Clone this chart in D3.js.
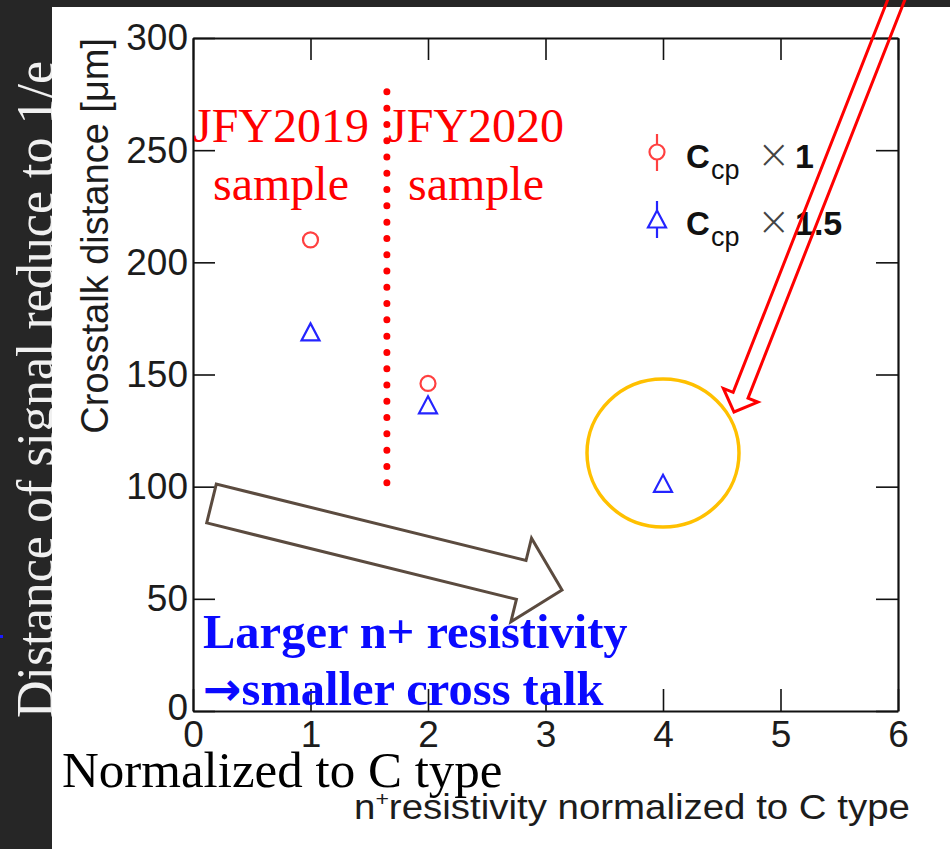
<!DOCTYPE html>
<html>
<head>
<meta charset="utf-8">
<script src="https://cdn.jsdelivr.net/npm/d3@7"></script>
<style>
  body { margin: 0; background: #262626; }
  svg { display: block; }
</style>
</head>
<body>
<div id="chart"></div>
<script>
// data
const xTicks = [0, 1, 2, 3, 4, 5, 6];
const yTicks = [0, 50, 100, 150, 200, 250, 300];
const ccp1X = [1, 2];
const ccp1Y = [210, 146];
const ccp15X = [1, 2, 4];
const ccp15Y = [169, 136.5, 101.5];
const legendFactors = ['1', '1.5'];

const W = 950, H = 849;
const svg = d3.select('#chart').append('svg').attr('width', W).attr('height', H);

// slide background + rotated side caption
svg.append('rect').attr('width', W).attr('height', H).attr('fill', '#262626');
svg.append('text')
  .attr('transform', 'translate(53,718) rotate(-90)')
  .attr('font-family', 'Liberation Serif, serif')
  .attr('font-size', 52)
  .attr('fill', '#f0f0f0')
  .text('Distance of signal reduce to 1/e');
svg.append('rect').attr('x', 0).attr('y', 635).attr('width', 3).attr('height', 3).attr('fill', '#1a1aff');
svg.append('rect').attr('x', 52).attr('y', 7).attr('width', W - 52).attr('height', H - 7).attr('fill', '#fff');

const x = d3.scaleLinear().domain([0, 6]).range([193, 898]);
const y = d3.scaleLinear().domain([0, 300]).range([711, 38]);

// ROOT style frame: ticks on all four sides, pointing inward
const axes = [
  { fn: d3.axisBottom, s: x, t: 'translate(0,711)', major: xTicks, minor: d3.range(0, 6.001, 0.2), labels: true, pad: 10 },
  { fn: d3.axisTop, s: x, t: 'translate(0,38)', major: xTicks, minor: d3.range(0, 6.001, 0.2), labels: false },
  { fn: d3.axisLeft, s: y, t: 'translate(193,0)', major: yTicks, minor: d3.range(0, 300.1, 10), labels: true, pad: 5, left: true },
  { fn: d3.axisRight, s: y, t: 'translate(898,0)', major: yTicks, minor: d3.range(0, 300.1, 10), labels: false }
];
axes.forEach(a => {
  const g = svg.append('g').attr('transform', a.t);
  g.call(a.fn(a.s).tickValues(a.minor).tickSize(-11).tickSizeOuter(0).tickFormat(''));
  g.call(a.fn(a.s).tickValues(a.major).tickSize(-22).tickSizeOuter(0)
    .tickPadding(a.pad || 3).tickFormat(a.labels ? d3.format('d') : ''));
  g.selectAll('.tick line').attr('stroke', '#111').attr('stroke-width', 1.6);
  g.selectAll('.domain').attr('stroke', '#111').attr('stroke-width', 2.2);
  g.selectAll('text').attr('font-family', 'Liberation Sans, Arial, sans-serif')
    .attr('font-size', 37).attr('fill', '#1c1c1c');
  // y "0" sits slightly higher, as in ROOT
  if (a.left) g.selectAll('.tick text').filter(d => d === 0).attr('dy', '0.22em');
});

// axis titles
svg.append('text')
  .attr('transform', 'translate(108,38) rotate(-90)')
  .attr('text-anchor', 'end')
  .attr('font-family', 'Liberation Sans, Arial, sans-serif')
  .attr('font-size', 38)
  .attr('fill', '#1c1c1c')
  .text('Crosstalk distance [μm]');

const xTitle = svg.append('text')
  .attr('font-family', 'Liberation Sans, Arial, sans-serif')
  .attr('font-size', 35)
  .attr('fill', '#1c1c1c');
xTitle.append('tspan').text('n');
xTitle.append('tspan').attr('font-size', 21).attr('dy', -13).text('+');
xTitle.append('tspan').attr('dy', 13).text('resistivity normalized to C type');
const xtw = xTitle.node().getBBox().width;
xTitle.attr('transform', `translate(354,819) scale(${556 / xtw},1)`);

// data markers
const red = '#ff4040', blue = '#2424ff';
const tri = 'M0,-8.5L9,8.5L-9,8.5Z';
svg.append('g').selectAll('circle')
  .data(ccp1X.map((d, i) => [d, ccp1Y[i]]))
  .join('circle')
  .attr('cx', d => x(d[0])).attr('cy', d => y(d[1])).attr('r', 7.5)
  .attr('fill', 'none').attr('stroke', red).attr('stroke-width', 2.2);
svg.append('g').selectAll('path')
  .data(ccp15X.map((d, i) => [d, ccp15Y[i]]))
  .join('path')
  .attr('d', tri)
  .attr('transform', d => `translate(${x(d[0])},${y(d[1])})`)
  .attr('fill', 'none').attr('stroke', blue).attr('stroke-width', 2.2);

// legend
const legRows = [152, 219];
legendFactors.forEach((f, i) => {
  const ly = legRows[i], lx = 657;
  const col = i === 0 ? red : blue;
  svg.append('line').attr('x1', lx).attr('x2', lx).attr('y1', ly - 18).attr('y2', ly - 8)
    .attr('stroke', col).attr('stroke-width', 2.2);
  svg.append('line').attr('x1', lx).attr('x2', lx).attr('y1', ly + 8).attr('y2', ly + 19)
    .attr('stroke', col).attr('stroke-width', 2.2);
  if (i === 0) {
    svg.append('circle').attr('cx', lx).attr('cy', ly).attr('r', 7.5)
      .attr('fill', 'none').attr('stroke', col).attr('stroke-width', 2.2);
  } else {
    svg.append('path').attr('d', tri).attr('transform', `translate(${lx},${ly})`)
      .attr('fill', 'none').attr('stroke', col).attr('stroke-width', 2.2);
  }
  const t = svg.append('text').attr('y', ly + 16)
    .attr('font-family', 'Liberation Sans, Arial, sans-serif').attr('fill', '#111');
  t.append('tspan').attr('x', 686).attr('font-size', 33).attr('font-weight', 'bold').text('C');
  t.append('tspan').attr('x', 711).attr('dy', 11).attr('font-size', 27).text('cp');
  t.append('tspan').attr('x', 757).attr('dy', -11).attr('font-size', 40)
    .attr('font-family', 'DejaVu Sans, sans-serif').attr('font-weight', 200).attr('fill', '#444').text('×');
  t.append('tspan').attr('x', 795).attr('font-size', 34).attr('font-weight', 'bold').text(f);
});

// annotations
svg.append('line')
  .attr('x1', x(1.65)).attr('x2', x(1.65)).attr('y1', y(276)).attr('y2', y(94.5))
  .attr('stroke', '#ff0000').attr('stroke-width', 7)
  .attr('stroke-linecap', 'round').attr('stroke-dasharray', `0 ${(y(94.5) - y(276)) / 25}`);

const serif = 'Liberation Serif, Times New Roman, serif';
[['JFY2019', 281], ['JFY2020', 476]].forEach(d => {
  svg.append('text').attr('x', d[1]).attr('y', 142).attr('text-anchor', 'middle')
    .attr('font-family', serif).attr('font-size', 48).attr('fill', '#ff0000').text(d[0]);
  svg.append('text').attr('x', d[1]).attr('y', 200).attr('text-anchor', 'middle')
    .attr('font-family', serif).attr('font-size', 48).attr('fill', '#ff0000').text('sample');
});

svg.append('ellipse')
  .attr('cx', x(4)).attr('cy', y(115)).attr('rx', 76).attr('ry', 74)
  .attr('fill', 'none').attr('stroke', '#ffc000').attr('stroke-width', 3.5);

function arrowPath(x0, y0, x1, y1, shaft, head, headLen) {
  const L = Math.hypot(x1 - x0, y1 - y0);
  const ux = (x1 - x0) / L, uy = (y1 - y0) / L, nx = -uy, ny = ux;
  const bx = x1 - ux * headLen, by = y1 - uy * headLen;
  const p = (px, py, o) => [px + nx * o, py + ny * o];
  const pts = [p(x0, y0, shaft / 2), p(bx, by, shaft / 2), p(bx, by, head / 2), [x1, y1],
    p(bx, by, -head / 2), p(bx, by, -shaft / 2), p(x0, y0, -shaft / 2)];
  return 'M' + pts.map(q => q.join(',')).join('L') + 'Z';
}

svg.append('path')
  .attr('d', arrowPath(211.5, 503.5, 562, 590, 40, 86, 42))
  .attr('fill', '#fff').attr('stroke', '#5b4b3f').attr('stroke-width', 3)
  .attr('stroke-linejoin', 'miter');

svg.append('text').attr('x', 203).attr('y', 648)
  .attr('font-family', serif).attr('font-weight', 'bold').attr('font-size', 48.5)
  .attr('fill', '#0a0aff').text('Larger n+ resistivity');
const t2 = svg.append('text').attr('x', 203).attr('y', 705)
  .attr('font-family', serif).attr('font-weight', 'bold').attr('font-size', 48.5)
  .attr('fill', '#0a0aff');
t2.append('tspan').attr('font-family', 'DejaVu Sans, sans-serif').attr('font-size', 46).text('→');
t2.append('tspan').text('smaller cross talk');

svg.append('text').attr('x', 62).attr('y', 787)
  .attr('font-family', serif).attr('font-size', 51).attr('fill', '#000')
  .text('Normalized to C type');

svg.append('path')
  .attr('d', arrowPath(908, -30, 734, 412, 16, 37, 18))
  .attr('fill', 'none').attr('stroke', '#ff0000').attr('stroke-width', 3);
</script>
</body>
</html>
